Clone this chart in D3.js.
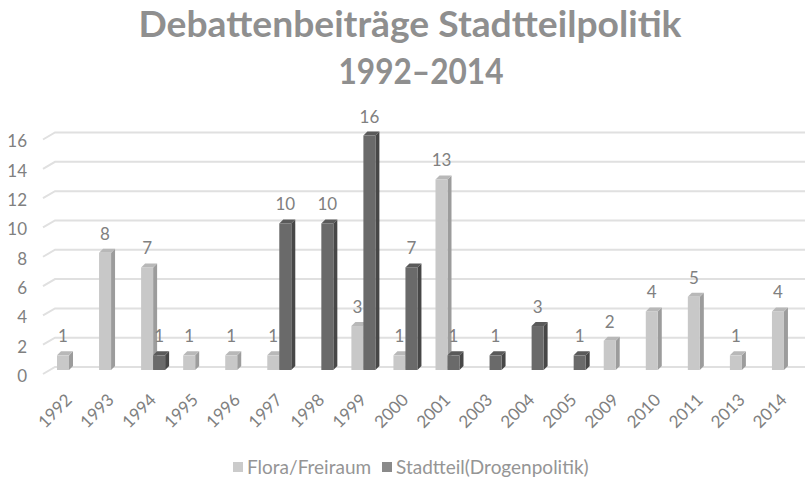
<!DOCTYPE html>
<html lang="de">
<head>
  <meta charset="UTF-8">
  <title>Debattenbeiträge Stadtteilpolitik 1992–2014</title>
  <script src="https://cdn.jsdelivr.net/npm/d3@7"></script>
  <style>
    html,
    body {
      margin: 0;
      padding: 0;
      background: #fff;
    }

    svg {
      display: block;
      font-family: Lato, "Open Sans", sans-serif;
    }
  </style>
</head>

<body>
  <svg id="chart" width="808" height="484"></svg>
  <script>
    //
    // Data
    //

    var years = ['1992', '1993', '1994', '1995', '1996', '1997', '1998', '1999', '2000',
      '2001', '2003', '2004', '2005', '2009', '2010', '2011', '2013', '2014']
    var flora = [1, 8, 7, 1, 1, 1, null, 3, 1, 13, null, null, null, 2, 4, 5, 1, 4]
    var stadtteil = [null, null, 1, null, null, 10, 10, 16, 7, 1, 1, 3, 1, null, null, null, null, null]
    var seriesNames = ['Flora/Freiraum', 'Stadtteil(Drogenpolitik)']
    var yTicks = [0, 2, 4, 6, 8, 10, 12, 14, 16]
    var titleLines = ['Debattenbeiträge Stadtteilpolitik', '1992–2014']

    //
    // Configuration
    //

    var depth = 4 // 3d offset of the bars
    var barW = 12
    var textColor = '#808080'
    var gridColor = '#e0e0e0'
    // front, side, top
    var colors = [
      ['#c8c8c8', '#9c9c9c', '#b8b8b8'],
      ['#6a6a6a', '#474747', '#5a5a5a']
    ]
    var legendColors = ['#cbcbcb', '#8a8a8a']

    var svg = d3.select('#chart')

    var x = d3.scaleBand().domain(years).range([48, 805])
    var y = d3.scaleLinear().domain([0, 16]).range([370, 135.5])

    //
    // Title
    //

    svg.append('text')
      .attr('x', 410).attr('y', 37)
      .attr('text-anchor', 'middle')
      .attr('font-size', 36).attr('font-weight', 'bold')
      .attr('fill', '#8f8f8f')
      .attr('textLength', 543).attr('lengthAdjust', 'spacingAndGlyphs')
      .text(titleLines[0])

    svg.append('text')
      .attr('x', 421).attr('y', 84)
      .attr('text-anchor', 'middle')
      .attr('font-size', 36).attr('font-weight', 'bold')
      .attr('fill', '#8f8f8f')
      .attr('textLength', 165).attr('lengthAdjust', 'spacingAndGlyphs')
      .text(titleLines[1])

    //
    // Grid + y axis
    //

    var grid = svg.append('g')
    grid.selectAll('path')
      .data(yTicks)
      .join('path')
      .attr('d', function (d) {
        var yy = y(d)
        return 'M43,' + (yy + 4) + 'L55,' + (yy - 3) + 'H805'
      })
      .attr('fill', 'none')
      .attr('stroke', gridColor)
      .attr('stroke-width', 2)

    svg.append('g').selectAll('text')
      .data(yTicks)
      .join('text')
      .attr('x', 27)
      .attr('y', function (d) { return y(d) + 6 })
      .attr('dy', '0.35em')
      .attr('text-anchor', 'end')
      .attr('font-size', 17)
      .attr('fill', textColor)
      .text(function (d) { return d })

    //
    // Bars
    //

    function bar3d(g, x0, v, c) {
      var top = y(v)
      var base = y(0)
      var x1 = x0 + barW
      g.append('path') // side
        .attr('d', 'M' + x1 + ',' + top + 'L' + (x1 + depth) + ',' + (top - depth) +
          'L' + (x1 + depth) + ',' + (base - depth) + 'L' + x1 + ',' + base + 'Z')
        .attr('fill', c[1])
      g.append('path') // top
        .attr('d', 'M' + x0 + ',' + top + 'L' + x1 + ',' + top +
          'L' + (x1 + depth) + ',' + (top - depth) + 'L' + (x0 + depth) + ',' + (top - depth) + 'Z')
        .attr('fill', c[2])
      g.append('rect') // front
        .attr('x', x0).attr('y', top)
        .attr('width', barW).attr('height', base - top)
        .attr('fill', c[0])
    }

    var series = [flora, stadtteil]
    var bars = svg.append('g')
    series.forEach(function (values, s) {
      values.forEach(function (v, i) {
        if (v == null) return
        bar3d(bars, x(years[i]) + 9 + s * barW, v, colors[s])
      })
    })

    // data labels
    var labels = svg.append('g')
      .attr('font-size', 17)
      .attr('fill', textColor)
      .attr('text-anchor', 'middle')
    series.forEach(function (values, s) {
      values.forEach(function (v, i) {
        if (v == null) return
        labels.append('text')
          .attr('x', x(years[i]) + 9 + s * barW + barW / 2)
          .attr('y', y(v) - 13)
          .text(v)
      })
    })

    //
    // x axis labels
    //

    svg.append('g').selectAll('text')
      .data(years)
      .join('text')
      .attr('transform', function (d) {
        return 'translate(' + (x(d) + x.bandwidth() / 2 + 4) + ',401) rotate(-45)'
      })
      .attr('text-anchor', 'end')
      .attr('font-size', 17)
      .attr('fill', textColor)
      .text(function (d) { return d })

    //
    // Legend
    //

    var legendX = [233, 382]
    var legend = svg.append('g')
    seriesNames.forEach(function (name, i) {
      legend.append('rect')
        .attr('x', legendX[i]).attr('y', 462)
        .attr('width', 10).attr('height', 10)
        .attr('fill', legendColors[i])
      legend.append('text')
        .attr('x', legendX[i] + 14).attr('y', 467)
        .attr('dy', '0.35em')
        .attr('font-size', 19)
        .attr('fill', '#959595')
        .text(name)
    })
  </script>
</body>

</html>
